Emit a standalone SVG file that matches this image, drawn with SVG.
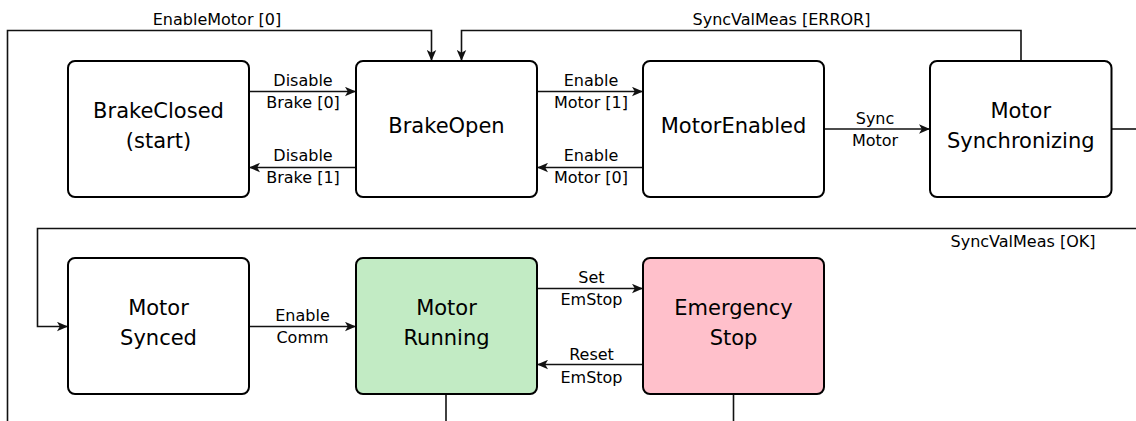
<svg xmlns="http://www.w3.org/2000/svg" width="1136" height="421" viewBox="0 0 1136 421">
  <style>
    .node rect { stroke: #000; stroke-width: 2; fill: #fff; }
    .node text { font-family: "DejaVu Sans", Verdana, sans-serif; font-size: 21px; fill: #000; text-anchor: middle; }
    .edges path { fill: none; stroke: #111; stroke-width: 1.6; }
    .edges .arr { marker-end: url(#head); }
    .lbl { font-family: "DejaVu Sans", Verdana, sans-serif; font-size: 16px; fill: #000; text-anchor: middle; }
    #running rect { fill: #c2ebc4; }
    #emstop rect { fill: #ffc0cb; }
  </style>
  <defs>
    <!-- classic notched arrowhead, tip on the path end -->
    <marker id="head" viewBox="0 0 11 10" refX="11" refY="5" markerWidth="11" markerHeight="10" markerUnits="userSpaceOnUse" orient="auto">
      <path d="M0,0.3 L11,5 L0,9.7 L2.8,5 Z" fill="#111"/>
    </marker>
  </defs>

  <rect width="1136" height="421" fill="#fff"/>

  <!-- transitions -->
  <g class="edges">
    <path class="arr" d="M249 91.5 H356"/>
    <path class="arr" d="M356 167.5 H249"/>
    <path class="arr" d="M537 91.5 H643"/>
    <path class="arr" d="M643 167.5 H537"/>
    <path class="arr" d="M824 129 H930"/>
    <path d="M1111 129 H1136"/>
    <path class="arr" d="M1021 61 V30.5 H461.5 V61"/>
    <path class="arr" d="M7.5 421 V30.5 H431.5 V61"/>
    <path class="arr" d="M1136 228.5 H37.5 V326.5 H68"/>
    <path class="arr" d="M249 326.5 H356"/>
    <path class="arr" d="M537 288.5 H643"/>
    <path class="arr" d="M643 364.5 H537"/>
    <path d="M446 394 V421"/>
    <path d="M733.5 394 V421"/>

    <text class="lbl" x="303" y="85.5">Disable</text>
    <text class="lbl" x="303" y="107.5">Brake [0]</text>
    <text class="lbl" x="303" y="161">Disable</text>
    <text class="lbl" x="303" y="183">Brake [1]</text>
    <text class="lbl" x="591" y="85.5">Enable</text>
    <text class="lbl" x="591" y="107.5">Motor [1]</text>
    <text class="lbl" x="591" y="161">Enable</text>
    <text class="lbl" x="591" y="183">Motor [0]</text>
    <text class="lbl" x="875" y="123.5">Sync</text>
    <text class="lbl" x="875" y="146">Motor</text>
    <text class="lbl" x="217" y="25">EnableMotor [0]</text>
    <text class="lbl" x="781.5" y="25">SyncValMeas [ERROR]</text>
    <text class="lbl" x="1023" y="247">SyncValMeas [OK]</text>
    <text class="lbl" x="302.5" y="321">Enable</text>
    <text class="lbl" x="302.5" y="343">Comm</text>
    <text class="lbl" x="591.5" y="282.5">Set</text>
    <text class="lbl" x="591.5" y="305">EmStop</text>
    <text class="lbl" x="591.5" y="360">Reset</text>
    <text class="lbl" x="591.5" y="382.5">EmStop</text>
  </g>

  <!-- states -->
  <g id="brakeclosed" class="node">
    <rect x="68" y="61" width="181" height="136" rx="7"/>
    <text x="158.5" y="117.5">BrakeClosed</text>
    <text x="158.5" y="147.5">(start)</text>
  </g>
  <g id="brakeopen" class="node">
    <rect x="356" y="61" width="181" height="136" rx="7"/>
    <text x="446.5" y="133">BrakeOpen</text>
  </g>
  <g id="motorenabled" class="node">
    <rect x="643" y="61" width="181" height="136" rx="7"/>
    <text x="733.5" y="133">MotorEnabled</text>
  </g>
  <g id="motorsync" class="node">
    <rect x="930" y="61" width="181.5" height="136" rx="7"/>
    <text x="1020.75" y="117.5">Motor</text>
    <text x="1020.75" y="147.5">Synchronizing</text>
  </g>
  <g id="synced" class="node">
    <rect x="68" y="258" width="181" height="136" rx="7"/>
    <text x="158.5" y="315">Motor</text>
    <text x="158.5" y="345">Synced</text>
  </g>
  <g id="running" class="node">
    <rect x="356" y="258" width="181" height="136" rx="7"/>
    <text x="446.5" y="315">Motor</text>
    <text x="446.5" y="345">Running</text>
  </g>
  <g id="emstop" class="node">
    <rect x="643" y="258" width="181" height="136" rx="7"/>
    <text x="733.5" y="315">Emergency</text>
    <text x="733.5" y="345">Stop</text>
  </g>
</svg>
